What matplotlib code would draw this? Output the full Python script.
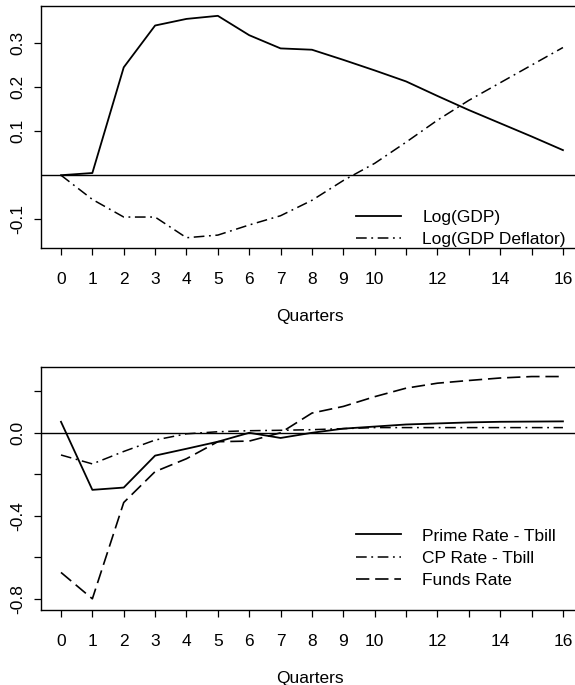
import matplotlib.pyplot as plt

plt.rcParams["font.family"] = ["Liberation Sans", "DejaVu Sans"]

quarters = list(range(17))

# top panel
log_gdp = [0.0, 0.005, 0.245, 0.340, 0.355, 0.362, 0.318, 0.288, 0.285,
           0.262, 0.238, 0.213, 0.180, 0.148, 0.118, 0.088, 0.057]
log_deflator = [0.0, -0.055, -0.095, -0.095, -0.142, -0.136, -0.113, -0.092, -0.057,
                -0.012, 0.027, 0.075, 0.125, 0.170, 0.210, 0.250, 0.290]

# bottom panel
prime_tbill = [0.053, -0.275, -0.264, -0.110, -0.077, -0.043, 0.0, -0.025, 0.0,
               0.020, 0.030, 0.040, 0.045, 0.050, 0.053, 0.054, 0.055]
cp_tbill = [-0.107, -0.150, -0.090, -0.035, -0.005, 0.005, 0.010, 0.012, 0.015,
            0.020, 0.025, 0.025, 0.025, 0.025, 0.025, 0.025, 0.025]
funds_rate = [-0.673, -0.800, -0.336, -0.187, -0.125, -0.043, -0.040, 0.0, 0.095,
              0.127, 0.174, 0.215, 0.239, 0.252, 0.264, 0.271, 0.271]

xtick_labels = [str(q) if (q <= 10 or q % 2 == 0) else "" for q in quarters]

W, H = 575, 685
fig = plt.figure(figsize=(W / 100, H / 100), dpi=100)

FS = 12.5
DASHDOT = (7, 3, 1.2, 3)
LONGDASH = (8, 3.5)


def make_axes(top_px, bottom_px):
    left, right = 41, 578
    ax = fig.add_axes([left / W, (H - bottom_px) / H,
                       (right - left) / W, (bottom_px - top_px) / H])
    ax.set_xlim(-0.637, 16.48)
    ax.set_xticks(quarters)
    ax.set_xticklabels(xtick_labels)
    ax.tick_params(axis="both", direction="out", length=5, width=0.9,
                   labelsize=FS, color="black")
    ax.tick_params(axis="x", pad=12)
    ax.tick_params(axis="y", pad=6)
    ax.spines["right"].set_visible(False)
    for s in ["left", "top", "bottom"]:
        ax.spines[s].set_linewidth(1.0)
    ax.set_xlabel("Quarters", fontsize=FS, labelpad=16)
    ax.axhline(0, color="black", lw=1.0)
    return ax


def add_legend(ax, anchor_y):
    ax.legend(loc="upper left", bbox_to_anchor=(0.587, anchor_y), frameon=False,
              fontsize=FS, handlelength=2.6, handletextpad=1.2,
              labelspacing=0.40, borderpad=0, borderaxespad=0)


ax1 = make_axes(5.7, 248.3)
ax1.set_ylim(-0.166, 0.385)
ax1.set_yticks([-0.1, 0.1, 0.2, 0.3])
ax1.set_yticklabels(["-0.1", "0.1", "0.2", "0.3"], rotation=90, va="center")
ax1.plot(quarters, log_gdp, color="black", lw=1.3, label="Log(GDP)")
ax1.plot(quarters, log_deflator, color="black", lw=1.1, dashes=DASHDOT,
         label="Log(GDP Deflator)")
add_legend(ax1, 0.16)

ax2 = make_axes(367, 610)
ax2.set_ylim(-0.854, 0.317)
ax2.set_yticks([-0.8, -0.6, -0.4, -0.2, 0.0, 0.2])
ax2.set_yticklabels(["-0.8", "", "-0.4", "", "0.0", ""], rotation=90, va="center")
ax2.plot(quarters, prime_tbill, color="black", lw=1.3, label="Prime Rate - Tbill")
ax2.plot(quarters, cp_tbill, color="black", lw=1.1, dashes=DASHDOT,
         label="CP Rate - Tbill")
ax2.plot(quarters, funds_rate, color="black", lw=1.2, dashes=LONGDASH,
         label="Funds Rate")
add_legend(ax2, 0.336)

fig.savefig("out.png", dpi=100)
